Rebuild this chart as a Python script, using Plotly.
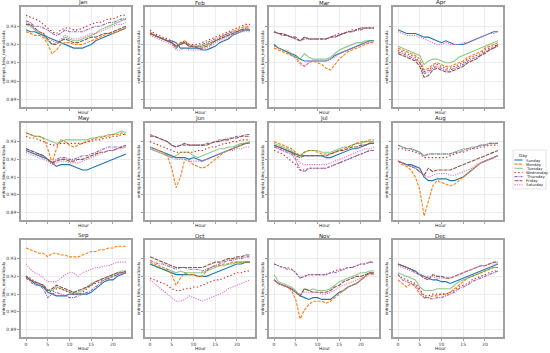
import plotly.graph_objects as go
from plotly.subplots import make_subplots

HOURS = list(range(24))
MONTHS = ["Jan", "Feb", "Mar", "Apr", "May", "Jun", "Jul", "Aug", "Sep", "Oct", "Nov", "Dec"]
DAYS = ["Sunday", "Monday", "Tuesday", "Wednesday", "Thursday", "Friday", "Saturday"]

# one list per day (Sunday..Saturday), 24 hourly values each
JAN = [
    [.928, .927, .927, .926, .925, .924, .923, .922, .921, .920, .919, .918, .918, .918, .919, .920, .922, .923, .924, .925, .926, .927, .928, .929],
    [.927, .926, .925, .925, .924, .920, .915, .917, .920, .921, .921, .920, .920, .920, .921, .922, .923, .924, .925, .926, .926, .927, .928, .929],
    [.931, .930, .928, .926, .925, .922, .920, .921, .922, .924, .923, .922, .922, .923, .924, .925, .926, .928, .929, .930, .931, .932, .933, .934],
    [.936, .935, .934, .933, .931, .929, .927, .926, .928, .929, .929, .928, .928, .929, .930, .931, .932, .932, .933, .934, .934, .935, .936, .936],
    [.933, .932, .930, .930, .929, .928, .926, .925, .926, .928, .927, .927, .927, .927, .928, .929, .930, .930, .931, .932, .932, .933, .934, .934],
    [.931, .931, .929, .927, .926, .923, .920, .920, .922, .923, .922, .921, .921, .922, .923, .924, .924, .925, .926, .926, .927, .928, .929, .930],
    [.932, .931, .928, .927, .926, .924, .922, .921, .923, .925, .924, .923, .923, .924, .925, .926, .926, .927, .928, .929, .930, .931, .931, .932],
]
FEB = [
    [.926, .925, .924, .923, .922, .922, .921, .918, .918, .918, .918, .918, .917, .917, .918, .919, .921, .922, .923, .925, .926, .927, .928, .928],
    [.927, .925, .924, .923, .922, .921, .919, .921, .922, .920, .919, .919, .919, .920, .921, .922, .923, .925, .926, .927, .928, .929, .930, .930],
    [.926, .925, .924, .923, .922, .921, .918, .921, .921, .919, .919, .919, .919, .920, .921, .922, .923, .924, .925, .926, .927, .928, .928, .928],
    [.928, .926, .925, .924, .923, .922, .919, .920, .922, .920, .920, .920, .921, .922, .923, .924, .925, .926, .927, .928, .929, .930, .931, .931],
    [.926, .925, .924, .923, .922, .921, .918, .920, .921, .919, .919, .919, .920, .921, .922, .923, .924, .925, .926, .927, .927, .928, .928, .928],
    [.926, .925, .924, .923, .922, .921, .919, .920, .921, .919, .919, .918, .918, .919, .920, .922, .923, .924, .925, .926, .927, .928, .929, .929],
    [.925, .924, .923, .922, .921, .920, .917, .917, .918, .917, .917, .917, .917, .918, .919, .921, .922, .923, .924, .925, .926, .927, .927, .927],
]
MAR = [
    [.920, .918, .917, .916, .915, .914, .912, .911, .911, .911, .911, .911, .911, .912, .914, .915, .916, .917, .918, .919, .920, .921, .922, .922],
    [.918, .917, .916, .915, .914, .913, .910, .908, .910, .911, .910, .909, .907, .906, .909, .912, .914, .916, .917, .918, .919, .920, .921, .921],
    [.920, .918, .917, .916, .914, .913, .912, .915, .913, .912, .912, .912, .912, .913, .915, .917, .918, .919, .920, .921, .921, .922, .922, .922],
    [.927, .926, .925, .925, .924, .923, .922, .924, .923, .923, .923, .923, .923, .924, .925, .926, .926, .927, .928, .928, .929, .929, .929, .929],
    [.927, .926, .925, .925, .924, .923, .922, .923, .923, .923, .923, .923, .923, .924, .925, .925, .926, .927, .927, .928, .928, .929, .929, .929],
    [.927, .926, .926, .925, .924, .924, .922, .924, .923, .923, .923, .923, .923, .924, .924, .925, .926, .927, .927, .928, .929, .929, .929, .929],
    [.919, .918, .917, .917, .915, .912, .909, .908, .910, .911, .911, .911, .911, .912, .913, .915, .916, .917, .918, .919, .920, .921, .921, .922],
]
APR = [
    [.928, .927, .926, .926, .926, .925, .924, .924, .923, .922, .921, .922, .921, .920, .920, .920, .921, .922, .923, .924, .925, .926, .927, .927],
    [.918, .917, .916, .915, .914, .912, .906, .907, .909, .910, .909, .908, .908, .909, .910, .911, .913, .914, .915, .916, .918, .919, .920, .921],
    [.919, .918, .917, .916, .915, .914, .909, .911, .912, .912, .911, .910, .910, .911, .913, .914, .915, .916, .917, .918, .919, .920, .921, .922],
    [.917, .916, .915, .914, .913, .910, .905, .906, .908, .909, .908, .907, .907, .908, .909, .910, .912, .913, .914, .915, .917, .918, .919, .920],
    [.916, .915, .914, .913, .912, .910, .904, .905, .907, .908, .907, .906, .906, .907, .908, .909, .911, .912, .913, .914, .916, .917, .918, .919],
    [.915, .914, .913, .912, .911, .908, .902, .903, .906, .907, .906, .905, .905, .906, .907, .908, .910, .911, .912, .914, .915, .917, .918, .920],
    [.927, .926, .925, .925, .925, .924, .923, .922, .921, .920, .920, .921, .920, .920, .920, .921, .921, .922, .923, .924, .925, .926, .926, .927],
]
MAY = [
    [.925, .924, .923, .922, .921, .920, .918, .916, .917, .917, .917, .916, .915, .914, .914, .915, .916, .917, .918, .919, .920, .921, .922, .923],
    [.935, .934, .933, .933, .932, .926, .918, .926, .931, .930, .928, .927, .928, .929, .930, .931, .932, .932, .933, .933, .934, .934, .935, .934],
    [.935, .934, .933, .933, .932, .931, .930, .929, .930, .931, .931, .931, .931, .931, .931, .932, .932, .933, .933, .934, .934, .935, .936, .935],
    [.933, .932, .932, .931, .930, .929, .928, .928, .929, .929, .929, .929, .929, .929, .930, .930, .931, .931, .932, .932, .933, .933, .934, .934],
    [.926, .925, .924, .923, .922, .920, .918, .920, .921, .921, .920, .920, .921, .922, .922, .923, .924, .925, .926, .927, .927, .927, .927, .927],
    [.926, .925, .924, .923, .922, .920, .918, .919, .920, .920, .919, .919, .920, .920, .921, .922, .923, .924, .924, .925, .925, .926, .927, .928],
    [.924, .923, .922, .921, .920, .919, .917, .918, .919, .919, .918, .918, .918, .919, .920, .921, .922, .923, .924, .925, .925, .926, .926, .927],
]
JUN = [
    [.927, .926, .925, .924, .923, .922, .921, .921, .921, .920, .921, .920, .919, .920, .921, .922, .923, .924, .925, .926, .927, .928, .929, .929],
    [.927, .926, .925, .924, .922, .915, .904, .910, .920, .919, .917, .916, .915, .916, .918, .920, .922, .924, .925, .926, .927, .928, .929, .929],
    [.926, .925, .924, .923, .922, .921, .922, .924, .924, .924, .922, .921, .922, .923, .924, .925, .926, .926, .927, .927, .928, .929, .929, .930],
    [.930, .929, .928, .927, .926, .925, .924, .924, .924, .924, .924, .925, .925, .926, .927, .927, .928, .929, .929, .930, .930, .931, .931, .931],
    [.934, .933, .932, .931, .930, .928, .927, .928, .928, .928, .928, .928, .928, .929, .929, .930, .931, .931, .932, .932, .933, .933, .934, .934],
    [.933, .933, .932, .931, .930, .928, .927, .928, .929, .928, .928, .928, .928, .928, .929, .930, .930, .931, .931, .932, .932, .933, .933, .933],
    [.926, .925, .924, .923, .922, .921, .920, .920, .920, .919, .919, .919, .919, .920, .921, .922, .923, .924, .925, .925, .926, .926, .927, .927],
]
JUL = [
    [.928, .927, .926, .925, .924, .923, .922, .922, .922, .922, .922, .922, .921, .921, .922, .923, .924, .925, .926, .926, .927, .928, .929, .929],
    [.930, .929, .928, .927, .926, .924, .922, .924, .925, .925, .924, .923, .923, .923, .924, .925, .926, .927, .928, .929, .930, .930, .931, .931],
    [.929, .928, .927, .926, .925, .923, .922, .924, .925, .925, .925, .924, .924, .924, .925, .926, .927, .927, .928, .929, .929, .930, .930, .930],
    [.925, .924, .923, .921, .919, .917, .914, .914, .915, .915, .915, .915, .915, .916, .917, .918, .919, .920, .921, .922, .923, .924, .925, .925],
    [.927, .926, .925, .924, .923, .920, .914, .913, .915, .915, .915, .915, .915, .916, .917, .918, .919, .920, .921, .922, .923, .924, .925, .925],
    [.928, .927, .926, .925, .924, .922, .921, .922, .922, .922, .922, .922, .922, .923, .924, .925, .925, .926, .927, .927, .928, .928, .929, .929],
    [.927, .926, .925, .924, .923, .921, .918, .917, .917, .917, .917, .917, .917, .918, .919, .920, .921, .922, .923, .924, .925, .926, .926, .927],
]
AUG = [
    [.919, .918, .917, .917, .916, .915, .910, .908, .908, .909, .909, .909, .908, .908, .909, .910, .912, .914, .916, .918, .919, .920, .921, .922],
    [.919, .917, .916, .914, .910, .903, .888, .897, .905, .908, .907, .906, .905, .906, .908, .910, .912, .914, .916, .918, .919, .920, .921, .922],
    [.928, .927, .926, .926, .925, .924, .922, .923, .923, .923, .923, .923, .923, .924, .925, .926, .926, .927, .927, .928, .928, .929, .929, .929],
    [.926, .926, .925, .925, .924, .923, .921, .921, .921, .921, .921, .921, .922, .923, .924, .924, .925, .926, .926, .927, .927, .928, .928, .928],
    [.928, .927, .926, .926, .925, .924, .922, .923, .923, .923, .923, .923, .923, .924, .924, .925, .926, .926, .927, .928, .928, .929, .929, .929],
    [.919, .918, .917, .916, .915, .913, .911, .915, .913, .914, .914, .914, .914, .915, .916, .917, .918, .919, .920, .921, .922, .923, .924, .925],
    [.919, .918, .917, .916, .915, .913, .911, .910, .911, .912, .912, .912, .911, .911, .912, .913, .914, .915, .917, .918, .919, .920, .921, .922],
]
SEP = [
    [.920, .918, .916, .915, .914, .911, .910, .909, .909, .909, .910, .910, .910, .910, .910, .911, .913, .915, .917, .918, .918, .920, .921, .922],
    [.936, .935, .934, .933, .933, .931, .933, .933, .932, .932, .931, .931, .931, .932, .933, .934, .934, .935, .935, .936, .936, .937, .937, .937],
    [.920, .918, .917, .916, .915, .912, .912, .914, .913, .912, .911, .911, .911, .912, .914, .916, .917, .918, .919, .920, .921, .922, .923, .923],
    [.920, .919, .917, .916, .915, .912, .911, .913, .913, .912, .911, .910, .910, .911, .913, .915, .916, .917, .918, .919, .920, .921, .922, .922],
    [.919, .917, .915, .915, .913, .908, .910, .911, .910, .909, .908, .908, .909, .910, .911, .912, .914, .916, .918, .919, .920, .921, .922, .922],
    [.920, .918, .917, .916, .915, .912, .913, .915, .914, .913, .912, .911, .912, .913, .914, .915, .917, .918, .919, .920, .921, .922, .922, .923],
    [.927, .924, .922, .921, .919, .917, .917, .917, .919, .921, .922, .922, .920, .922, .923, .924, .925, .925, .926, .926, .927, .928, .928, .928],
]
OCT = [
    [.927, .926, .925, .924, .923, .922, .921, .921, .921, .921, .921, .920, .920, .920, .921, .922, .923, .924, .925, .926, .927, .927, .928, .928],
    [.928, .927, .926, .925, .924, .921, .915, .919, .922, .921, .921, .920, .920, .923, .925, .926, .926, .927, .927, .928, .928, .928, .928, .928],
    [.927, .926, .925, .924, .924, .923, .922, .923, .922, .922, .922, .922, .922, .923, .924, .925, .926, .926, .927, .927, .928, .928, .928, .928],
    [.919, .918, .917, .916, .915, .913, .912, .912, .913, .913, .914, .914, .915, .916, .917, .918, .918, .919, .920, .921, .922, .922, .923, .923],
    [.929, .928, .927, .927, .926, .925, .924, .925, .925, .924, .924, .924, .923, .924, .925, .926, .927, .928, .929, .929, .930, .930, .931, .931],
    [.931, .930, .929, .928, .927, .926, .925, .925, .925, .925, .925, .925, .925, .926, .927, .928, .928, .929, .930, .930, .931, .931, .932, .932],
    [.918, .916, .914, .912, .910, .908, .906, .906, .907, .909, .908, .907, .906, .907, .908, .909, .910, .911, .913, .914, .915, .916, .917, .918],
]
NOV = [
    [.918, .916, .915, .914, .913, .911, .909, .908, .907, .908, .908, .907, .907, .907, .909, .911, .912, .914, .915, .916, .918, .920, .922, .921],
    [.918, .916, .915, .914, .912, .907, .896, .901, .904, .906, .906, .906, .905, .906, .908, .910, .912, .914, .915, .916, .918, .920, .922, .922],
    [.921, .917, .916, .915, .914, .912, .909, .913, .912, .913, .912, .912, .912, .913, .915, .917, .918, .919, .920, .921, .922, .922, .923, .923],
    [.927, .926, .925, .925, .924, .922, .919, .920, .921, .921, .921, .921, .921, .922, .923, .924, .924, .925, .925, .926, .927, .927, .928, .928],
    [.927, .926, .925, .924, .924, .922, .919, .920, .921, .921, .921, .921, .921, .922, .922, .923, .924, .925, .925, .926, .927, .927, .928, .928],
    [.918, .916, .915, .914, .913, .911, .909, .913, .912, .911, .911, .911, .911, .912, .914, .915, .917, .918, .919, .920, .920, .921, .922, .922],
    [.918, .916, .915, .914, .913, .911, .910, .911, .911, .911, .911, .910, .910, .911, .912, .914, .915, .916, .917, .918, .919, .920, .921, .921],
]
DEC = [
    [.927, .926, .925, .924, .923, .921, .920, .919, .918, .918, .917, .917, .916, .917, .918, .919, .920, .921, .922, .923, .924, .925, .926, .927],
    [.918, .916, .914, .916, .914, .910, .908, .908, .909, .909, .910, .910, .911, .913, .915, .917, .919, .920, .921, .922, .923, .924, .925, .925],
    [.922, .921, .920, .919, .918, .914, .912, .912, .912, .913, .913, .913, .913, .915, .917, .918, .919, .920, .921, .922, .923, .924, .925, .925],
    [.921, .919, .918, .917, .916, .913, .909, .909, .910, .910, .910, .910, .911, .912, .914, .915, .916, .918, .919, .920, .921, .922, .923, .923],
    [.921, .918, .917, .916, .915, .912, .908, .908, .907, .908, .908, .909, .910, .911, .913, .914, .915, .917, .918, .919, .920, .921, .922, .923],
    [.927, .926, .925, .924, .922, .921, .919, .918, .921, .920, .920, .919, .919, .920, .921, .922, .923, .924, .925, .926, .926, .927, .928, .928],
    [.926, .925, .924, .923, .922, .921, .920, .920, .920, .919, .919, .919, .919, .920, .921, .922, .923, .924, .925, .926, .926, .927, .927, .927],
]
MONTH_DATA = [JAN, FEB, MAR, APR, MAY, JUN, JUL, AUG, SEP, OCT, NOV, DEC]

Y_TICKS = [0.89, 0.90, 0.91, 0.92, 0.93]
X_TICKS = [0, 5, 10, 15, 20]

COLORS = ["#1f77b4", "#ff7f0e", "rgba(44,160,44,0.55)", "#d62728", "#9467bd", "#8c564b", "#e377c2"]
DASHES = ["solid", "3px,1.3px", "solid", "1.4px,2.2px", "3px,1px,1px,1px", "4px,1px", "1.2px,1.2px"]

W, H = 550, 353
col_px = [(21, 131), (145, 255), (269, 379), (393, 503)]
row_px = [(7, 107), (123, 220), (240, 337)]
FONT = "DejaVu Sans"

fig = make_subplots(rows=3, cols=4)

for m, month in enumerate(MONTHS):
    r, c = m // 4, m % 4
    for d, day in enumerate(DAYS):
        fig.add_trace(go.Scatter(
            x=HOURS, y=MONTH_DATA[m][d], mode="lines", name=day,
            line=dict(color=COLORS[d], dash=DASHES[d], width=1.1),
            showlegend=False,
        ), row=r + 1, col=c + 1)

    i = m + 1
    x0, x1 = col_px[c]
    y0, y1 = row_px[r]
    fig.update_layout({
        f"xaxis{i}": dict(
            domain=[x0 / W, x1 / W], range=[-1.15, 24.15],
            tickvals=X_TICKS, showticklabels=(r == 2),
        ),
        f"yaxis{i}": dict(
            domain=[1 - y1 / H, 1 - y0 / H], range=[0.8858, 0.9405],
            tickvals=Y_TICKS, tickformat=".2f", showticklabels=(c == 0),
            title=dict(text="entropia_bins_normalizada", standoff=1, font=dict(size=4)),
        ),
    })
    # month title above the panel and the "Hour" label below it
    fig.add_annotation(
        x=(x0 + x1) / 2 / W, y=1 - y0 / H, xref="paper", yref="paper",
        text=month, showarrow=False, yanchor="bottom", yshift=-1,
        font=dict(size=5.5, color="#222222"),
    )
    fig.add_annotation(
        x=(x0 + x1) / 2 / W, y=1 - y1 / H, xref="paper", yref="paper",
        text="Hour", showarrow=False, yanchor="top",
        yshift=-7 if r == 2 else -1,
        font=dict(size=4.5, color="#222222"),
    )

axis_style = dict(showline=True, mirror=True, linecolor="#a0a0a0", linewidth=1.5,
                  showgrid=True, gridcolor="#ececec", gridwidth=0.6, zeroline=False,
                  ticks="outside", ticklen=2, tickcolor="#a0a0a0", automargin=False,
                  tickfont=dict(size=4.5, color="#333333"))
fig.update_xaxes(**axis_style)
fig.update_yaxes(**axis_style)

# hand-drawn legend (plotly's own legend is too wide for the right margin)
lx0, lx1, ly0, ly1 = 513, 546, 150, 189
fig.add_shape(type="rect", xref="paper", yref="paper",
              x0=lx0 / W, x1=lx1 / W, y0=1 - ly1 / H, y1=1 - ly0 / H,
              line=dict(color="#dddddd", width=0.8), fillcolor="white")
fig.add_annotation(x=(lx0 + lx1) / 2 / W, y=1 - 155 / H, xref="paper", yref="paper",
                   text="Day", showarrow=False, font=dict(size=4.2, color="#222222"))
for d, day in enumerate(DAYS):
    yy = 1 - (160 + d * 4.15) / H
    fig.add_shape(type="line", xref="paper", yref="paper",
                  x0=514.5 / W, x1=522.5 / W, y0=yy, y1=yy,
                  line=dict(color=COLORS[d], dash=DASHES[d], width=1.1))
    fig.add_annotation(x=524 / W, y=yy, xref="paper", yref="paper", text=day,
                       showarrow=False, xanchor="left", font=dict(size=3.8, color="#222222"))

fig.update_layout(
    width=W, height=H,
    margin=dict(l=0, r=0, t=0, b=0),
    paper_bgcolor="white", plot_bgcolor="white",
    font=dict(family=FONT, color="#222222"),
)

# the page body has a default 8px margin; drop it so the figure sits at 0,0
fig.write_html("out.html", config={"displayModeBar": False},
               post_script="document.body.style.margin='0';")
